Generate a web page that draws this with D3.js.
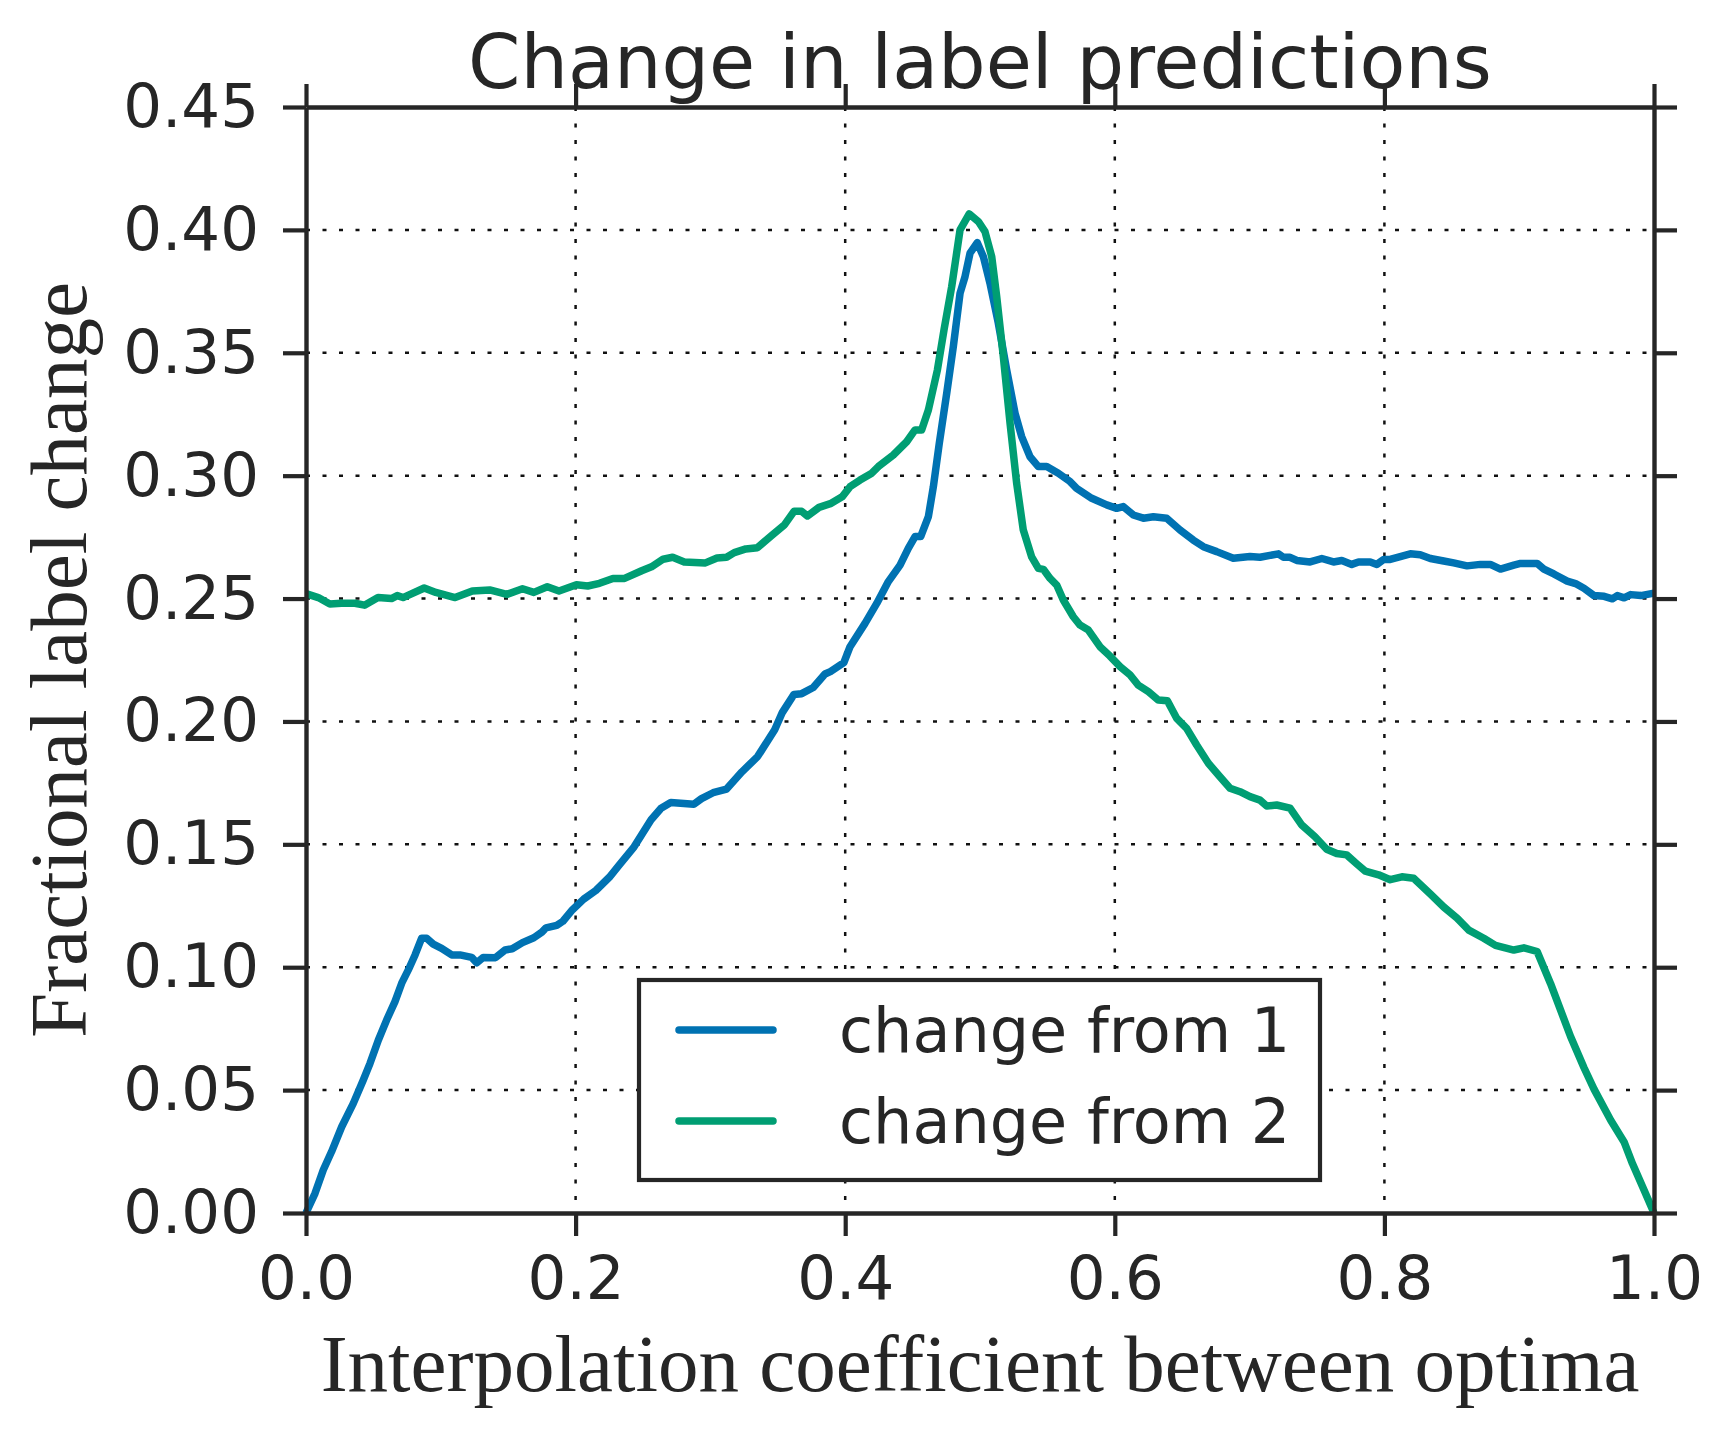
<!DOCTYPE html>
<meta charset="utf-8">
<style>
  body { margin: 0; background: #fff; }
</style>

<!-- Load d3.js -->
<script src="https://d3js.org/d3.v7.min.js"></script>

<!-- Create a div where the graph will take place -->
<div id="my_dataviz"></div>

<script>

// data
var seriesNames = ["change from 1", "change from 2"];
var seriesColors = ["#0072B2", "#009E73"];

var coefFrom1 = [0, 0.0067, 0.0128, 0.019, 0.0265, 0.0351, 0.0425, 0.0475, 0.0537, 0.0598, 0.066, 0.071, 0.0759, 0.0809, 0.0858, 0.0895, 0.0944, 0.1006, 0.1081, 0.1142, 0.1229, 0.1266, 0.1315, 0.1406, 0.1477, 0.153, 0.1606, 0.169, 0.175, 0.178, 0.186, 0.1906, 0.1977, 0.206, 0.215, 0.225, 0.232, 0.2434, 0.256, 0.2634, 0.2706, 0.2877, 0.2934, 0.302, 0.312, 0.3234, 0.335, 0.3477, 0.3534, 0.362, 0.3677, 0.3763, 0.385, 0.389, 0.399, 0.4036, 0.4147, 0.4234, 0.432, 0.4407, 0.4468, 0.4518, 0.456, 0.4617, 0.4654, 0.4698, 0.4753, 0.4802, 0.4852, 0.4889, 0.4926, 0.498, 0.5025, 0.5074, 0.5136, 0.5198, 0.526, 0.5309, 0.5371, 0.5433, 0.5495, 0.5581, 0.5668, 0.5717, 0.5829, 0.594, 0.6014, 0.6063, 0.6137, 0.6212, 0.6286, 0.6385, 0.6484, 0.6582, 0.6657, 0.6756, 0.6879, 0.7003, 0.7077, 0.7214, 0.7251, 0.73, 0.735, 0.7449, 0.7536, 0.7622, 0.7684, 0.7758, 0.7808, 0.7895, 0.7944, 0.7994, 0.8043, 0.8192, 0.8266, 0.8341, 0.844, 0.8514, 0.8613, 0.8712, 0.8786, 0.8861, 0.896, 0.901, 0.9133, 0.9183, 0.9257, 0.9356, 0.9418, 0.948, 0.9555, 0.963, 0.9691, 0.9728, 0.9778, 0.9827, 0.9902, 1.0];
var changeFrom1 = [0, 0.008, 0.0175, 0.025, 0.0351, 0.0446, 0.0541, 0.0609, 0.0704, 0.0785, 0.086, 0.0935, 0.0989, 0.105, 0.1118, 0.1118, 0.1094, 0.1077, 0.105, 0.105, 0.104, 0.1018, 0.104, 0.1039, 0.107, 0.1075, 0.110, 0.112, 0.1143, 0.116, 0.117, 0.1187, 0.1234, 0.1277, 0.1312, 0.1366, 0.1413, 0.149, 0.160, 0.1647, 0.167, 0.1663, 0.1686, 0.171, 0.1725, 0.1795, 0.1857, 0.1966, 0.2037, 0.211, 0.2113, 0.2138, 0.2193, 0.2203, 0.2239, 0.2304, 0.2399, 0.248, 0.2569, 0.2636, 0.2704, 0.2752, 0.2752, 0.2833, 0.2955, 0.3132, 0.3335, 0.3525, 0.3742, 0.381, 0.3905, 0.3948, 0.3891, 0.3783, 0.362, 0.343, 0.3254, 0.3159, 0.3077, 0.3037, 0.3037, 0.301, 0.2976, 0.2948, 0.2908, 0.2881, 0.2867, 0.2874, 0.284, 0.2827, 0.2833, 0.2827, 0.2779, 0.2738, 0.2711, 0.2691, 0.2664, 0.2671, 0.2668, 0.2682, 0.2668, 0.2668, 0.2655, 0.2649, 0.2663, 0.2649, 0.2655, 0.2639, 0.2649, 0.2649, 0.2639, 0.2659, 0.2659, 0.2682, 0.2678, 0.2663, 0.2653, 0.2645, 0.2633, 0.2639, 0.2639, 0.262, 0.2636, 0.2643, 0.2643, 0.262, 0.26, 0.2571, 0.2561, 0.2542, 0.2512, 0.2509, 0.2499, 0.2512, 0.2503, 0.2516, 0.2512, 0.2522];

var coefFrom2 = [0, 0.0091, 0.0177, 0.0263, 0.0363, 0.0434, 0.0534, 0.0634, 0.0677, 0.072, 0.0877, 0.0963, 0.1106, 0.1234, 0.1363, 0.149, 0.1606, 0.169, 0.179, 0.1877, 0.2006, 0.209, 0.2177, 0.2277, 0.2363, 0.249, 0.2563, 0.2649, 0.272, 0.2806, 0.2963, 0.3049, 0.312, 0.3177, 0.3263, 0.3349, 0.3449, 0.3549, 0.362, 0.3677, 0.372, 0.3806, 0.389, 0.3977, 0.4036, 0.411, 0.4197, 0.4246, 0.4357, 0.4456, 0.4518, 0.4567, 0.4617, 0.4684, 0.4733, 0.479, 0.4852, 0.492, 0.4988, 0.5037, 0.5087, 0.5124, 0.5173, 0.5223, 0.5272, 0.5321, 0.5383, 0.5433, 0.547, 0.552, 0.5569, 0.5618, 0.5692, 0.5742, 0.5804, 0.589, 0.5964, 0.6039, 0.6113, 0.6174, 0.6249, 0.6323, 0.639, 0.6459, 0.6533, 0.6607, 0.6694, 0.678, 0.6855, 0.6929, 0.7003, 0.7077, 0.7127, 0.7201, 0.73, 0.7386, 0.7485, 0.7572, 0.7646, 0.772, 0.7796, 0.7858, 0.7957, 0.8043, 0.813, 0.8217, 0.8341, 0.844, 0.8539, 0.8626, 0.8737, 0.8824, 0.896, 0.9035, 0.9133, 0.9233, 0.9381, 0.948, 0.9555, 0.9679, 0.9778, 0.984, 0.9926, 1.0];
var changeFrom2 = [0.252, 0.2504, 0.2478, 0.2481, 0.2481, 0.2473, 0.2504, 0.25, 0.2512, 0.2504, 0.2543, 0.2525, 0.2504, 0.2531, 0.2535, 0.2517, 0.254, 0.2525, 0.2548, 0.2531, 0.2556, 0.2551, 0.2562, 0.2582, 0.2582, 0.2613, 0.2629, 0.266, 0.2668, 0.2649, 0.2645, 0.2665, 0.2668, 0.2687, 0.2702, 0.2707, 0.2754, 0.28, 0.2855, 0.2855, 0.2836, 0.2871, 0.2886, 0.2914, 0.2955, 0.2982, 0.301, 0.3037, 0.3084, 0.3138, 0.3186, 0.3186, 0.3267, 0.343, 0.3593, 0.3769, 0.4, 0.4065, 0.4034, 0.3993, 0.3891, 0.3728, 0.3484, 0.3213, 0.2969, 0.2779, 0.267, 0.2623, 0.2619, 0.2582, 0.2555, 0.2494, 0.2426, 0.2392, 0.2372, 0.2304, 0.2266, 0.2223, 0.2189, 0.2148, 0.2121, 0.2087, 0.2084, 0.2013, 0.1972, 0.1904, 0.183, 0.1775, 0.1728, 0.1714, 0.1694, 0.168, 0.1656, 0.166, 0.1647, 0.1579, 0.1531, 0.148, 0.1463, 0.1457, 0.142, 0.1391, 0.1376, 0.1356, 0.1368, 0.1362, 0.1298, 0.1245, 0.12, 0.1151, 0.1118, 0.1089, 0.107, 0.1079, 0.1064, 0.0933, 0.0718, 0.0592, 0.0504, 0.0377, 0.0289, 0.0201, 0.0094, 0.0];

var xTicks = [0, 0.2, 0.4, 0.6, 0.8, 1.0];
var yTicks = [0, 0.05, 0.10, 0.15, 0.20, 0.25, 0.30, 0.35, 0.40, 0.45];

// set the dimensions and margins of the graph
var margin = {top: 107, right: 79, bottom: 225, left: 306},
    width = 1733 - margin.left - margin.right,
    height = 1438 - margin.top - margin.bottom;

var ink = "#262626";
var sans = "'DejaVu Sans', sans-serif";
var serif = "'Liberation Serif', 'Times New Roman', serif";

var svg = d3.select("#my_dataviz")
  .append("svg")
    .attr("width", 1733)
    .attr("height", 1438)
  .append("g")
    .attr("transform", "translate(" + margin.left + "," + margin.top + ")");

var x = d3.scaleLinear().domain([0, 1]).range([0, width]);
var y = d3.scaleLinear().domain([0, 0.45]).range([height, 0]);

// dotted grid
svg.append("g")
  .selectAll("line.vgrid")
  .data(xTicks.slice(1, -1))
  .enter().append("line")
    .attr("x1", function(d) { return x(d); })
    .attr("x2", function(d) { return x(d); })
    .attr("y1", 0)
    .attr("y2", height)
    .attr("stroke", "#111")
    .attr("stroke-width", 2.5)
    .attr("stroke-dasharray", "4,12.5");

svg.append("g")
  .selectAll("line.hgrid")
  .data(yTicks.slice(1, -1))
  .enter().append("line")
    .attr("x1", 0)
    .attr("x2", width)
    .attr("y1", function(d) { return y(d); })
    .attr("y2", function(d) { return y(d); })
    .attr("stroke", "#111")
    .attr("stroke-width", 2.5)
    .attr("stroke-dasharray", "4,12.5");

// the two curves
var series = [
  {name: seriesNames[0], color: seriesColors[0], xs: coefFrom1, ys: changeFrom1},
  {name: seriesNames[1], color: seriesColors[1], xs: coefFrom2, ys: changeFrom2}
];

var line = d3.line()
  .x(function(d) { return x(d[0]); })
  .y(function(d) { return y(d[1]); });

series.forEach(function(s) {
  svg.append("path")
    .datum(d3.zip(s.xs, s.ys))
    .attr("fill", "none")
    .attr("stroke", s.color)
    .attr("stroke-width", 7.5)
    .attr("stroke-linejoin", "round")
    .attr("d", line);
});

// axes on all four sides, ticks pointing out
function styleAxis(g) {
  g.select(".domain").attr("stroke", ink).attr("stroke-width", 4.4);
  g.selectAll(".tick line").attr("stroke", ink).attr("stroke-width", 4.2);
  g.selectAll(".tick text")
    .attr("fill", ink)
    .style("font-family", sans)
    .style("font-size", "61px");
}

svg.append("g")
  .attr("transform", "translate(0," + height + ")")
  .call(d3.axisBottom(x).tickValues(xTicks).tickSize(23).tickSizeOuter(0).tickPadding(20)
    .tickFormat(d3.format(".1f")))
  .call(styleAxis);

svg.append("g")
  .call(d3.axisTop(x).tickValues(xTicks).tickSize(23).tickSizeOuter(0).tickFormat(""))
  .call(styleAxis);

svg.append("g")
  .call(d3.axisLeft(y).tickValues(yTicks).tickSize(23).tickSizeOuter(0).tickPadding(24)
    .tickFormat(d3.format(".2f")))
  .call(styleAxis);

svg.append("g")
  .attr("transform", "translate(" + width + ",0)")
  .call(d3.axisRight(y).tickValues(yTicks).tickSize(23).tickSizeOuter(0).tickFormat(""))
  .call(styleAxis);

// title and axis labels
svg.append("text")
  .attr("x", width / 2)
  .attr("y", 88 - margin.top)
  .attr("text-anchor", "middle")
  .attr("fill", ink)
  .style("font-family", sans)
  .style("font-size", "75px")
  .text("Change in label predictions");

svg.append("text")
  .attr("x", width / 2)
  .attr("y", 1391 - margin.top)
  .attr("text-anchor", "middle")
  .attr("fill", ink)
  .style("font-family", serif)
  .style("font-size", "81px")
  .text("Interpolation coefficient between optima");

svg.append("text")
  .attr("transform", "translate(" + (86 - margin.left) + "," + (height / 2) + ") rotate(-90)")
  .attr("text-anchor", "middle")
  .attr("fill", ink)
  .style("font-family", serif)
  .style("font-size", "81px")
  .text("Fractional label change");

// legend
var legend = svg.append("g")
  .attr("transform", "translate(" + (639 - margin.left) + "," + (980 - margin.top) + ")");

legend.append("rect")
  .attr("width", 681)
  .attr("height", 200)
  .attr("fill", "#fff")
  .attr("stroke", ink)
  .attr("stroke-width", 4.2);

var entry = legend.selectAll("g.entry")
  .data(series)
  .enter().append("g")
    .attr("transform", function(d, i) { return "translate(0," + (50 + i * 91) + ")"; });

entry.append("line")
  .attr("x1", 40)
  .attr("x2", 134)
  .attr("stroke", function(d) { return d.color; })
  .attr("stroke-width", 7.5)
  .attr("stroke-linecap", "round");

entry.append("text")
  .attr("x", 200)
  .attr("dy", "0.36em")
  .attr("fill", ink)
  .style("font-family", sans)
  .style("font-size", "62px")
  .text(function(d) { return d.name; });

</script>
